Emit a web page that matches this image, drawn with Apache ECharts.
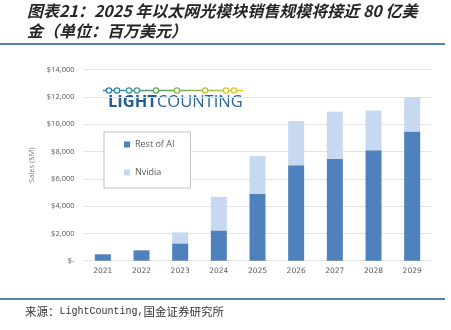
<!DOCTYPE html>
<html>
<head>
<meta charset="utf-8">
<script src="https://cdn.jsdelivr.net/npm/echarts@6/dist/echarts.min.js"></script>
<style>
  html, body { margin: 0; padding: 0; background: #fff; }
  #chart { width: 451px; height: 330px; }
</style>
</head>
<body>
<div id="chart"></div>
<script>
// Ethernet optical module sales, $M
const years = ['2021', '2022', '2023', '2024', '2025', '2026', '2027', '2028', '2029'];
const restOfAI = [470, 760, 1270, 2220, 4900, 7000, 7460, 8100, 9470];
const nvidia = [0, 0, 810, 2460, 2780, 3240, 3470, 2900, 2530];
const yTicks = { min: 0, max: 14000, interval: 2000 };

const titleLine1 = '图表21：2025 年以太网光模块销售规模将接近 80 亿美';
const titleLine2 = '金（单位：百万美元）';

const darkBlue = '#4f81bd';
const lightBlue = '#c6d9f1';
const labelGray = '#595959';

// logo chain: circle positions along the line
const chainX = [109, 117, 129, 137, 156, 177, 205, 226, 234];
const chainColors = ['#2b7db8', '#2f86ad', '#3a92a0', '#45998f', '#6aa95c', '#8fb447', '#b8c132', '#d2c72a', '#dccb26'];

function fmtDollar(v) {
  return v === 0 ? '$-' : '$' + v.toLocaleString('en-US');
}

const chart = echarts.init(document.getElementById('chart'), null, { renderer: 'canvas' });

const graphics = [
  { type: 'text', left: 27, top: 3, style: { text: titleLine1, font: 'italic bold 16px "Noto Sans CJK SC"', fill: '#262626' } },
  { type: 'text', left: 27, top: 23, style: { text: titleLine2, font: 'italic bold 16px "Noto Sans CJK SC"', fill: '#262626' } },
  { type: 'line', shape: { x1: 0, y1: 44, x2: 445, y2: 44 }, style: { stroke: '#1f5a86', lineWidth: 1.6 } },
  { type: 'line', shape: { x1: 0, y1: 299, x2: 445, y2: 299 }, style: { stroke: '#1f5a86', lineWidth: 1.6 } },
  {
    type: 'text', left: 25, top: 306,
    style: {
      text: '{c|来源：}{m|LightCounting,}{c|国金证券研究所}',
      rich: {
        c: { fontFamily: '"Noto Sans CJK SC"', fontSize: 11.5, fill: '#333' },
        m: { fontFamily: '"Liberation Mono"', fontSize: 10, fill: '#333' }
      }
    }
  },
  // logo chain line
  {
    type: 'line', shape: { x1: 103, y1: 90.5, x2: 243, y2: 90.5 },
    style: {
      lineWidth: 1.4,
      stroke: new echarts.graphic.LinearGradient(0, 0, 1, 0, [
        { offset: 0, color: '#2b7db8' }, { offset: 0.5, color: '#6aa95c' }, { offset: 1, color: '#dccb26' }
      ])
    }
  },
  {
    type: 'text', left: 108, top: 94,
    style: {
      text: '{b|LIGHT}{r|COUNTING}',
      rich: {
        b: { fontFamily: '"Open Sans"', fontWeight: 'bold', fontSize: 16.5, fill: '#245e8f' },
        r: { fontFamily: '"Open Sans"', fontSize: 16.5, fill: '#2a6598' }
      }
    }
  }
];
chainX.forEach(function (x, i) {
  graphics.push({
    type: 'circle', shape: { cx: x, cy: 90.5, r: 2.6 },
    style: { fill: '#fff', stroke: chainColors[i], lineWidth: 1.3 }
  });
});

chart.setOption({
  animation: false,
  backgroundColor: '#fff',
  grid: { left: 83.5, right: 19.5, top: 69.7, bottom: 69.3 },
  legend: {
    orient: 'vertical',
    left: 104, top: 132,
    padding: [8, 16, 11, 20],
    itemGap: 19,
    itemWidth: 6, itemHeight: 6,
    backgroundColor: '#fff',
    borderColor: '#bfbfbf',
    borderWidth: 1,
    icon: 'rect',
    textStyle: { fontFamily: '"Open Sans"', fontSize: 9, color: labelGray },
    data: ['Rest of AI', 'Nvidia']
  },
  xAxis: {
    type: 'category',
    data: years,
    axisLine: { show: false },
    axisTick: { show: false },
    axisLabel: { color: labelGray, fontSize: 7.5, fontFamily: '"DejaVu Sans"', margin: 6 }
  },
  yAxis: {
    type: 'value',
    min: yTicks.min, max: yTicks.max, interval: yTicks.interval,
    name: 'Sales ($M)',
    nameLocation: 'middle',
    nameRotate: 90,
    nameGap: 43,
    nameTextStyle: { color: '#7f7f7f', fontSize: 7.5, fontFamily: '"Open Sans"' },
    axisLine: { show: false },
    axisTick: { show: false },
    axisLabel: { color: labelGray, fontSize: 7.5, fontFamily: '"Open Sans"', margin: 9, formatter: fmtDollar },
    splitLine: { lineStyle: { color: '#e3e3e3', width: 1 } }
  },
  graphic: graphics,
  series: [
    {
      name: 'Rest of AI', type: 'bar', stack: 'sales', barWidth: 16,
      itemStyle: { color: darkBlue }, data: restOfAI, z: 2
    },
    {
      name: 'Nvidia', type: 'bar', stack: 'sales', barWidth: 16,
      itemStyle: { color: lightBlue }, data: nvidia, z: 2
    }
  ]
});
</script>
</body>
</html>
